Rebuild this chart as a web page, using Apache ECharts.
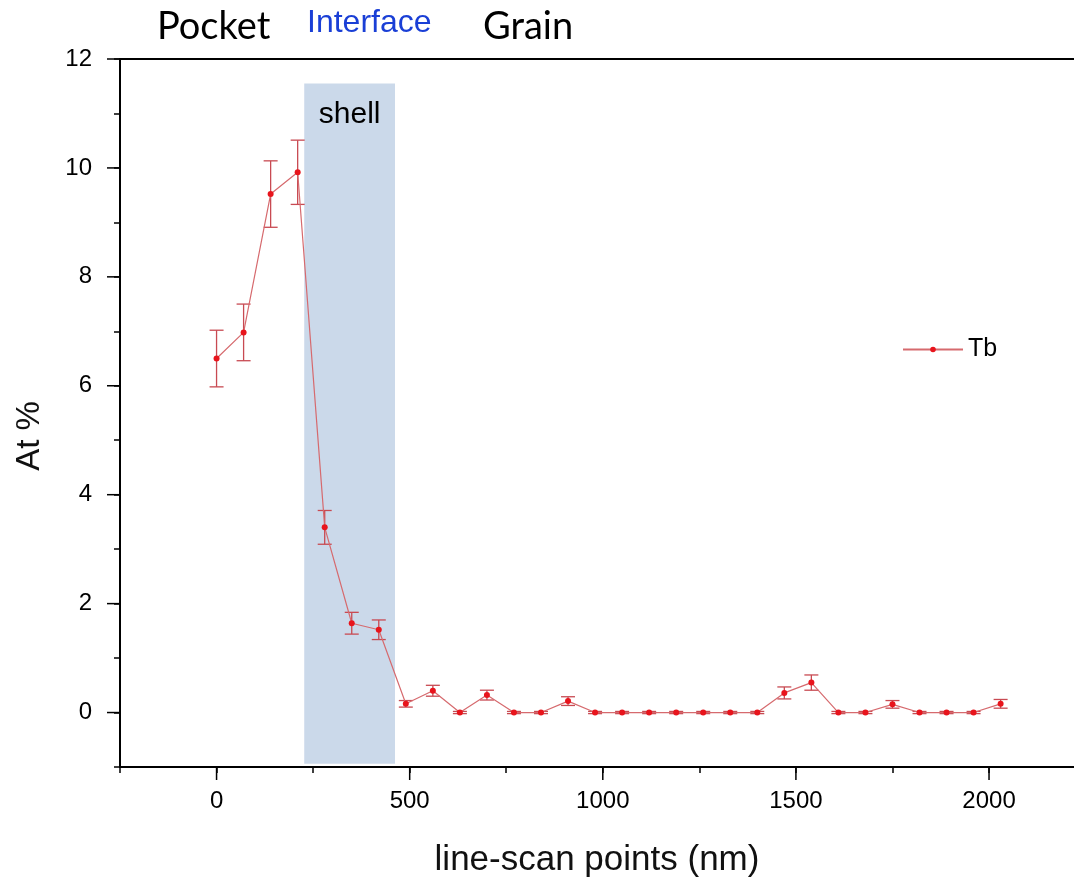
<!DOCTYPE html>
<html>
<head>
<meta charset="utf-8">
<script src="https://cdn.jsdelivr.net/npm/echarts@6/dist/echarts.min.js"></script>
<style>
  html, body { margin: 0; padding: 0; background: #fff; }
  #chart { width: 1074px; height: 877px; }
</style>
</head>
<body>
<div id="chart"></div>
<script>
// ---- data ----
const positions = [0, 70, 140, 210, 280, 350, 420, 490, 560, 630, 700, 770, 840, 910, 980,
                   1050, 1120, 1190, 1260, 1330, 1400, 1470, 1540, 1610, 1680, 1750, 1820, 1890, 1960, 2030];
const tbValues = [6.50, 6.98, 9.52, 9.92, 3.40, 1.64, 1.52, 0.16, 0.40, 0.00, 0.32, 0.00, 0.00, 0.21, 0.00,
                  0.00, 0.00, 0.00, 0.00, 0.00, 0.00, 0.36, 0.55, 0.00, 0.00, 0.15, 0.00, 0.00, 0.00, 0.16];
const tbErrors = [0.52, 0.52, 0.61, 0.59, 0.31, 0.20, 0.18, 0.06, 0.10, 0.02, 0.09, 0.02, 0.02, 0.08, 0.02,
                  0.02, 0.02, 0.02, 0.02, 0.02, 0.02, 0.11, 0.14, 0.02, 0.02, 0.07, 0.02, 0.02, 0.02, 0.08];
const shellRange = { x0: 227, x1: 462, y0: -0.94, y1: 11.55 };
const xMajorTicks = [0, 500, 1000, 1500, 2000];
const yMajorTicks = [0, 2, 4, 6, 8, 10, 12];
const seriesName = 'Tb';
const xTitle = 'line-scan points (nm)';
const yTitle = 'At %';
const regionLabels = ['Pocket', 'Interface', 'Grain'];

// ---- chart ----
const lineData = positions.map((x, i) => [x, tbValues[i]]);
const errData = positions.map((x, i) => [x, tbValues[i] - tbErrors[i], tbValues[i] + tbErrors[i]]);

const FONT = "'Liberation Sans', Arial, sans-serif";
const TITLE_FONT = "Lato, 'Noto Sans', sans-serif";
const X_MIN = -250, X_MAX = 2220, Y_MIN = -1, Y_MAX = 12;
const chart = echarts.init(document.getElementById('chart'), null, { renderer: 'canvas' });

const baseGraphics = [
  { type: 'text', left: 157, top: 8, z: 100,
    style: { text: regionLabels[0], fontFamily: TITLE_FONT, fontSize: 38, fill: '#000' } },
  { type: 'text', left: 307, top: 7, z: 100,
    style: { text: regionLabels[1], fontFamily: FONT, fontSize: 32, fill: '#1a3fd6' } },
  { type: 'text', left: 483, top: 8, z: 100,
    style: { text: regionLabels[2], fontFamily: TITLE_FONT, fontSize: 38, fill: '#000' } },
  { type: 'text', x: 30, y: 436, rotation: Math.PI / 2, z: 100,
    style: { text: yTitle, fontFamily: FONT, fontSize: 33, fill: '#111', align: 'center', verticalAlign: 'middle' } }
];

chart.setOption({
  animation: false,
  backgroundColor: '#ffffff',
  grid: { left: 120, right: 0, top: 59, bottom: 110, containLabel: false, outerBoundsMode: 'none' },
  legend: {
    data: [seriesName],
    left: 902, top: 337, padding: 0,
    itemWidth: 60, itemHeight: 7, itemGap: 6,
    textStyle: { fontFamily: FONT, fontSize: 25, color: '#000' }
  },
  xAxis: [
    {
      type: 'value', min: X_MIN, max: X_MAX, interval: 250, position: 'bottom',
      name: xTitle, nameLocation: 'middle', nameGap: 76,
      nameTextStyle: { fontFamily: FONT, fontSize: 35, color: '#111' },
      axisLine: { show: true, onZero: false, lineStyle: { color: '#000', width: 2 } },
      axisTick: { show: true, length: 6, lineStyle: { color: '#000', width: 1.5 } },
      axisLabel: { margin: 22, fontFamily: FONT, fontSize: 24, color: '#000', showMaxLabel: false,
                   formatter: v => (xMajorTicks.indexOf(v) >= 0 ? String(v) : '') },
      splitLine: { show: false }
    },
    {
      type: 'value', min: X_MIN, max: X_MAX, position: 'top',
      axisLine: { show: true, onZero: false, lineStyle: { color: '#000', width: 2 } },
      axisTick: { show: false }, axisLabel: { show: false }, splitLine: { show: false }
    }
  ],
  yAxis: [
    {
      type: 'value', min: Y_MIN, max: Y_MAX, interval: 1, position: 'left',
      axisLine: { show: true, onZero: false, lineStyle: { color: '#000', width: 2 } },
      axisTick: { show: true, length: 6, lineStyle: { color: '#000', width: 1.5 } },
      axisLabel: { margin: 28, fontFamily: FONT, fontSize: 24, color: '#000',
                   formatter: v => (yMajorTicks.indexOf(v) >= 0 ? String(v) : '') },
      splitLine: { show: false }
    }
  ],
  graphic: baseGraphics,
  series: [
    {
      name: 'shell', type: 'line', data: [], z: 1, silent: true,
      markArea: {
        silent: true,
        itemStyle: { color: '#cbd9ea' },
        label: { show: true, position: 'insideTop', distance: 16, formatter: 'shell',
                 fontFamily: FONT, fontSize: 30, color: '#000' },
        data: [[{ xAxis: shellRange.x0, yAxis: shellRange.y1 }, { xAxis: shellRange.x1, yAxis: shellRange.y0 }]]
      }
    },
    {
      name: 'err', type: 'custom', z: 3, silent: true,
      data: errData,
      renderItem: function (params, api) {
        const x = api.value(0);
        const lo = api.coord([x, api.value(1)]);
        const hi = api.coord([x, api.value(2)]);
        const hw = 7;
        const st = { stroke: '#c84a52', lineWidth: 1.3 };
        return {
          type: 'group',
          children: [
            { type: 'line', shape: { x1: lo[0], y1: lo[1], x2: hi[0], y2: hi[1] }, style: st },
            { type: 'line', shape: { x1: lo[0] - hw, y1: lo[1], x2: lo[0] + hw, y2: lo[1] }, style: st },
            { type: 'line', shape: { x1: hi[0] - hw, y1: hi[1], x2: hi[0] + hw, y2: hi[1] }, style: st }
          ]
        };
      }
    },
    {
      name: seriesName, type: 'line', z: 4,
      data: lineData,
      symbol: 'circle', symbolSize: 6, showSymbol: true,
      lineStyle: { color: '#d66a6e', width: 1.2 },
      itemStyle: { color: '#e8141c', borderWidth: 0 }
    }
  ]
});

// Major (long) ticks, positioned through the axes' own scales.
const TICK_LEN = 13;
const tickGraphics = [];
xMajorTicks.forEach(v => {
  const p = chart.convertToPixel({ gridIndex: 0 }, [v, Y_MIN]);
  tickGraphics.push({ type: 'line', z: 1000, silent: true,
    shape: { x1: p[0], y1: p[1], x2: p[0], y2: p[1] + TICK_LEN },
    style: { stroke: '#000', lineWidth: 1.5 } });
});
yMajorTicks.forEach(v => {
  const p = chart.convertToPixel({ gridIndex: 0 }, [X_MIN, v]);
  tickGraphics.push({ type: 'line', z: 1000, silent: true,
    shape: { x1: p[0] - TICK_LEN, y1: p[1], x2: p[0], y2: p[1] },
    style: { stroke: '#000', lineWidth: 1.5 } });
});
chart.setOption({ graphic: baseGraphics.concat(tickGraphics) });
</script>
</body>
</html>
